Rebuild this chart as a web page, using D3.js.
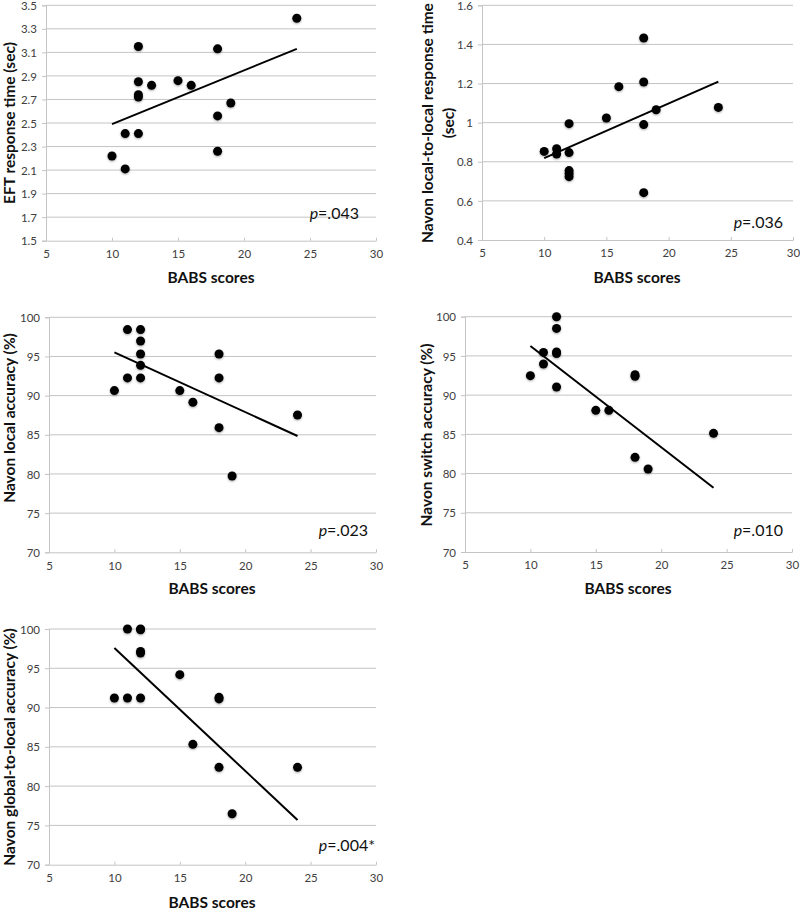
<!DOCTYPE html>
<html>
<head>
<meta charset="utf-8">
<script src="https://cdn.jsdelivr.net/npm/d3@7"></script>
<style>
  html, body { margin: 0; padding: 0; background: #fff; }
  svg { display: block; }
  .tick text { font-family: Lato, "Open Sans", sans-serif; font-size: 11.5px; fill: #404040; }
  .title { font-family: Lato, "Open Sans", sans-serif; font-size: 15.5px; font-weight: bold; fill: #111; }
  .pval { font-family: Lato, "Open Sans", sans-serif; font-size: 16px; fill: #111; }
</style>
</head>
<body>
<script>
// ---------------- DATA ----------------
const xTicks = [5, 10, 15, 20, 25, 30];
const xLabel = "BABS scores";

// Panel 1: EFT response time
const eftX = [10, 11, 11, 12, 12, 12, 12, 12, 13, 15, 16, 18, 18, 18, 19, 24];
const eftY = [2.22, 2.41, 2.11, 3.15, 2.85, 2.74, 2.72, 2.41, 2.82, 2.86, 2.82, 3.13, 2.56, 2.26, 2.67, 3.39];
const eftTrend = [[10, 2.49], [24, 3.13]];
const eftTicks = [1.5, 1.7, 1.9, 2.1, 2.3, 2.5, 2.7, 2.9, 3.1, 3.3, 3.5];
const eftTickLabels = ["1.5", "1.7", "1.9", "2.1", "2.3", "2.5", "2.7", "2.9", "3.1", "3.3", "3.5"];

// Panel 2: Navon local-to-local response time
const llX = [10, 11, 11, 12, 12, 12, 12, 12, 15, 16, 18, 18, 18, 18, 19, 24];
const llY = [0.853, 0.867, 0.840, 0.995, 0.847, 0.755, 0.740, 0.724, 1.024, 1.184, 1.433, 1.208, 0.990, 0.642, 1.066, 1.078];
const llTrend = [[10, 0.819], [24, 1.210]];
const llTicks = [0.4, 0.6, 0.8, 1.0, 1.2, 1.4, 1.6];
const llTickLabels = ["0.4", "0.6", "0.8", "1", "1.2", "1.4", "1.6"];

// Panel 3: Navon local accuracy
const laX = [10, 11, 11, 12, 12, 12, 12, 12, 15, 16, 18, 18, 18, 19, 24];
const laY = [90.64, 98.43, 92.26, 98.43, 96.98, 95.32, 93.87, 92.26, 90.64, 89.15, 95.32, 92.26, 85.91, 79.74, 87.53];
const laTrend = [[10, 95.53], [24, 84.85]];

// Panel 4: Navon switch accuracy
const swX = [10, 11, 11, 12, 12, 12, 12, 12, 15, 16, 18, 18, 18, 19, 24];
const swY = [92.48, 95.45, 93.97, 100, 98.51, 95.5, 95.3, 91.03, 88.06, 88.06, 92.6, 92.4, 82.07, 80.58, 85.13];
const swTrend = [[10, 96.26], [24, 78.20]];

// Panel 5: Navon global-to-local accuracy
const glX = [10, 11, 11, 12, 12, 12, 12, 12, 15, 16, 18, 18, 18, 19, 24];
const glY = [91.22, 100, 91.22, 100, 99.9, 97.15, 96.95, 91.22, 94.19, 85.32, 91.3, 91.1, 82.39, 76.49, 82.39];
const glTrend = [[10, 97.58], [24, 75.69]];

const accTicks = [70, 75, 80, 85, 90, 95, 100];
const accTickLabels = ["70", "75", "80", "85", "90", "95", "100"];

// ---------------- PANELS (layout separate from data) ----------------
const panels = [
  { xs: eftX, ys: eftY, trend: eftTrend, yTicks: eftTicks, yLabels: eftTickLabels,
    yTitle: ["EFT response time (sec)"], p: ".043", star: "",
    box: { l: 46, r: 376, t: 5.3, b: 240.7 }, yTitleX: 9, yTitleY: 123, xTitleX: 211, xTitleY: 277,
    pX: 359, pY: 212 },
  { xs: llX, ys: llY, trend: llTrend, yTicks: llTicks, yLabels: llTickLabels,
    yTitle: ["Navon local-to-local response time", "(sec)"], p: ".036", star: "",
    box: { l: 482, r: 793, t: 5.3, b: 240 }, yTitleX: 437, yTitleY: 123, xTitleX: 637, xTitleY: 277,
    pX: 783, pY: 221 },
  { xs: laX, ys: laY, trend: laTrend, yTicks: accTicks, yLabels: accTickLabels,
    yTitle: ["Navon local accuracy (%)"], p: ".023", star: "",
    box: { l: 49, r: 376, t: 317.3, b: 552.3 }, yTitleX: 9, yTitleY: 418, xTitleX: 212, xTitleY: 588,
    pX: 368, pY: 529 },
  { xs: swX, ys: swY, trend: swTrend, yTicks: accTicks, yLabels: accTickLabels,
    yTitle: ["Navon switch accuracy (%)"], p: ".010", star: "",
    box: { l: 465, r: 792, t: 316.7, b: 552 }, yTitleX: 426, yTitleY: 435, xTitleX: 628, xTitleY: 588,
    pX: 783, pY: 529 },
  { xs: glX, ys: glY, trend: glTrend, yTicks: accTicks, yLabels: accTickLabels,
    yTitle: ["Navon global-to-local accuracy (%)"], p: ".004", star: "*",
    box: { l: 49, r: 376, t: 629, b: 864.7 }, yTitleX: 9, yTitleY: 747, xTitleX: 212, xTitleY: 902,
    pX: 375, pY: 844 }
];

const W = 800, H = 911;
const svg = d3.select("body").append("svg").attr("width", W).attr("height", H);

const defs = svg.append("defs");
const f = defs.append("filter").attr("id", "shadow").attr("x", "-50%").attr("y", "-50%").attr("width", "200%").attr("height", "200%");
f.append("feGaussianBlur").attr("in", "SourceAlpha").attr("stdDeviation", 1.2).attr("result", "blur");
f.append("feOffset").attr("in", "blur").attr("dx", 0).attr("dy", 1).attr("result", "off");
f.append("feComponentTransfer").attr("in", "off").attr("result", "soft")
  .append("feFuncA").attr("type", "linear").attr("slope", 0.35);
const fm = f.append("feMerge");
fm.append("feMergeNode").attr("in", "soft");
fm.append("feMergeNode").attr("in", "SourceGraphic");

const gridColor = "#c4c4c4";

panels.forEach(P => {
  const b = P.box;
  const x = d3.scaleLinear().domain([5, 30]).range([b.l, b.r]);
  const y = d3.scaleLinear().domain([P.yTicks[0], P.yTicks[P.yTicks.length - 1]]).range([b.b, b.t]);
  const g = svg.append("g");

  // gridlines
  g.append("g").selectAll("line").data(P.yTicks.slice(1)).join("line")
    .attr("x1", b.l).attr("x2", b.r)
    .attr("y1", d => y(d)).attr("y2", d => y(d))
    .attr("stroke", gridColor).attr("stroke-width", 1);

  // y axis
  const yAxis = d3.axisLeft(y).tickValues(P.yTicks).tickSize(4).tickPadding(5)
    .tickFormat((d, i) => P.yLabels[i]);
  const ya = g.append("g").attr("transform", `translate(${b.l},0)`).call(yAxis);
  ya.selectAll("path, line").attr("stroke", gridColor);
  ya.selectAll("text").attr("dy", "0.36em");

  // x axis (ticks pointing inward/up)
  const xAxis = d3.axisBottom(x).tickValues(xTicks).tickSizeInner(-3).tickSizeOuter(0).tickPadding(7)
    .tickFormat(d3.format("d"));
  const xa = g.append("g").attr("transform", `translate(0,${b.b})`).call(xAxis);
  xa.selectAll("path, line").attr("stroke", gridColor);
  xa.selectAll("text").attr("dy", "0.9em");

  // trend line
  g.append("path").datum(P.trend)
    .attr("d", d3.line().x(d => x(d[0])).y(d => y(d[1])))
    .attr("stroke", "#000").attr("stroke-width", 2).attr("fill", "none");

  // points
  const pts = P.xs.map((v, i) => [v, P.ys[i]]);
  g.append("g").attr("filter", "url(#shadow)").selectAll("circle").data(pts).join("circle")
    .attr("cx", d => x(d[0])).attr("cy", d => y(d[1])).attr("r", 4.5).attr("fill", "#000");

  // x title
  g.append("text").attr("class", "title").attr("x", P.xTitleX).attr("y", P.xTitleY)
    .attr("text-anchor", "middle").attr("dominant-baseline", "central").text(xLabel);

  // y title
  const yt = g.append("text").attr("class", "title")
    .attr("transform", `translate(${P.yTitleX},${P.yTitleY}) rotate(-90)`)
    .attr("text-anchor", "middle");
  const n = P.yTitle.length;
  P.yTitle.forEach((t, i) => {
    yt.append("tspan").attr("x", 0).attr("y", (i - (n - 1) / 2) * 21).attr("dominant-baseline", "central").text(t);
  });

  // p value
  const pt = g.append("text").attr("class", "pval").attr("x", P.pX).attr("y", P.pY)
    .attr("text-anchor", "end").attr("dominant-baseline", "central");
  pt.append("tspan").attr("font-style", "italic").text("p");
  pt.append("tspan").text("=" + P.p + P.star);
});
</script>
</body>
</html>
